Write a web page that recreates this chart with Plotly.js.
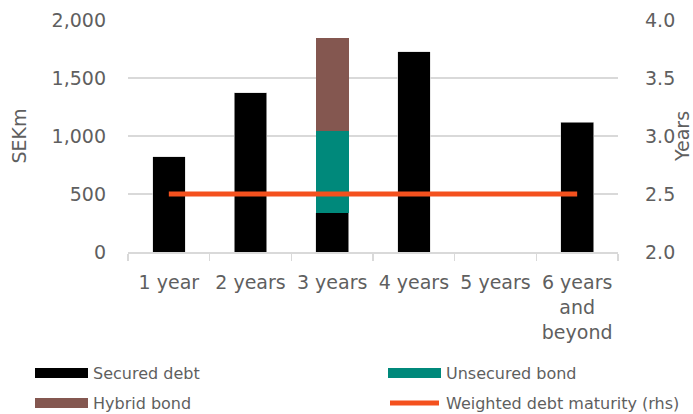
<!DOCTYPE html>
<html>
<head>
<meta charset="utf-8">
<script src="https://cdn.plot.ly/plotly-3.0.1.min.js"></script>
<style>html,body{margin:0;padding:0;background:#fff;}#chart{width:693px;height:414px;}</style>
</head>
<body>
<div id="chart"></div>
<script>
const categories = ["1 year", "2 years", "3 years", "4 years", "5 years", "6 years<br>and<br>beyond"];
const securedDebt = [820, 1375, 340, 1725, 0, 1120];
const unsecuredBond = [0, 0, 700, 0, 0, 0];
const hybridBond = [0, 0, 805, 0, 0, 0];
const weightedMaturity = [2.5, 2.5, 2.5, 2.5, 2.5, 2.5];

const seriesNames = ["Secured debt", "Unsecured bond", "Hybrid bond", "Weighted debt maturity (rhs)"];
const colors = ["#000000", "#00897B", "#845750", "#F4511E"];

const FONT = "DejaVu Sans";
const GREY = "#5f5f5f";

const traces = [
  {type: "bar", name: seriesNames[0], x: categories, y: securedDebt, marker: {color: colors[0], line: {color: "#d9d9d9", width: 0.6}}, showlegend: false, hoverinfo: "skip"},
  {type: "bar", name: seriesNames[1], x: categories, y: unsecuredBond, marker: {color: colors[1]}, showlegend: false, hoverinfo: "skip"},
  {type: "bar", name: seriesNames[2], x: categories, y: hybridBond, marker: {color: colors[2]}, showlegend: false, hoverinfo: "skip"},
  {type: "scatter", mode: "lines", name: seriesNames[3], x: categories, y: weightedMaturity, yaxis: "y2", line: {color: colors[3], width: 5}, showlegend: false, hoverinfo: "skip"}
];

const W = 693, H = 414;
const M = {l: 128, r: 75, t: 20, b: 162};
const PW = W - M.l - M.r, PH = H - M.t - M.b;
const px = v => (v - M.l) / PW;
const py = v => (H - M.b - v) / PH;

// custom legend (wide swatches)
const shapes = [];
const annotations = [];
const legendItems = [
  {i: 0, x0: 35, y: 373},
  {i: 1, x0: 388, y: 373},
  {i: 2, x0: 35, y: 403},
  {i: 3, x0: 388, y: 403}
];
legendItems.forEach(it => {
  if (it.i === 3) {
    shapes.push({type: "line", xref: "paper", yref: "paper", x0: px(it.x0 + 2), x1: px(it.x0 + 51), y0: py(it.y), y1: py(it.y), line: {color: colors[3], width: 5}});
  } else {
    shapes.push({type: "rect", xref: "paper", yref: "paper", x0: px(it.x0), x1: px(it.x0 + 53), y0: py(it.y - 5), y1: py(it.y + 5), fillcolor: colors[it.i], line: {width: 0}});
  }
  annotations.push({xref: "paper", yref: "paper", x: px(it.x0 + 56), y: py(it.y), xanchor: "left", yanchor: "middle", text: seriesNames[it.i], showarrow: false, font: {family: FONT, size: 16, color: GREY}});
});

const layout = {
  width: W, height: H,
  margin: M,
  paper_bgcolor: "#fff", plot_bgcolor: "#fff",
  barmode: "stack", bargap: 0.6,
  font: {family: FONT, color: GREY},
  xaxis: {
    type: "category", tickson: "boundaries", ticks: "outside", ticklen: 7, tickcolor: "#d9d9d9", tickwidth: 1.5,
    showline: true, linecolor: "#d9d9d9", linewidth: 1.5, showgrid: false, zeroline: false,
    tickfont: {family: FONT, size: 19, color: GREY}, ticklabelstandoff: 13, automargin: false
  },
  yaxis: {
    range: [0, 2000], tickvals: [0, 500, 1000, 1500, 2000], ticktext: ["0", "500", "1,000", "1,500", "2,000"],
    showgrid: true, gridcolor: "#d9d9d9", gridwidth: 1.5, zeroline: false, ticks: "", showline: false,
    tickfont: {family: FONT, size: 19, color: GREY}, ticklabelstandoff: 21, automargin: false,
    title: {text: "SEKm", font: {family: FONT, size: 19, color: GREY}, standoff: 19}
  },
  yaxis2: {
    overlaying: "y", side: "right", range: [2, 4], tickvals: [2, 2.5, 3, 3.5, 4], ticktext: ["2.0", "2.5", "3.0", "3.5", "4.0"],
    showgrid: false, zeroline: false, ticks: "", showline: false,
    tickfont: {family: FONT, size: 19, color: GREY}, ticklabelstandoff: 26, automargin: false,
    title: {text: "Years", font: {family: FONT, size: 19, color: GREY}, standoff: 4}
  },
  shapes: shapes,
  annotations: annotations
};

Plotly.newPlot("chart", traces, layout, {displayModeBar: false, staticPlot: true});
</script>
</body>
</html>
